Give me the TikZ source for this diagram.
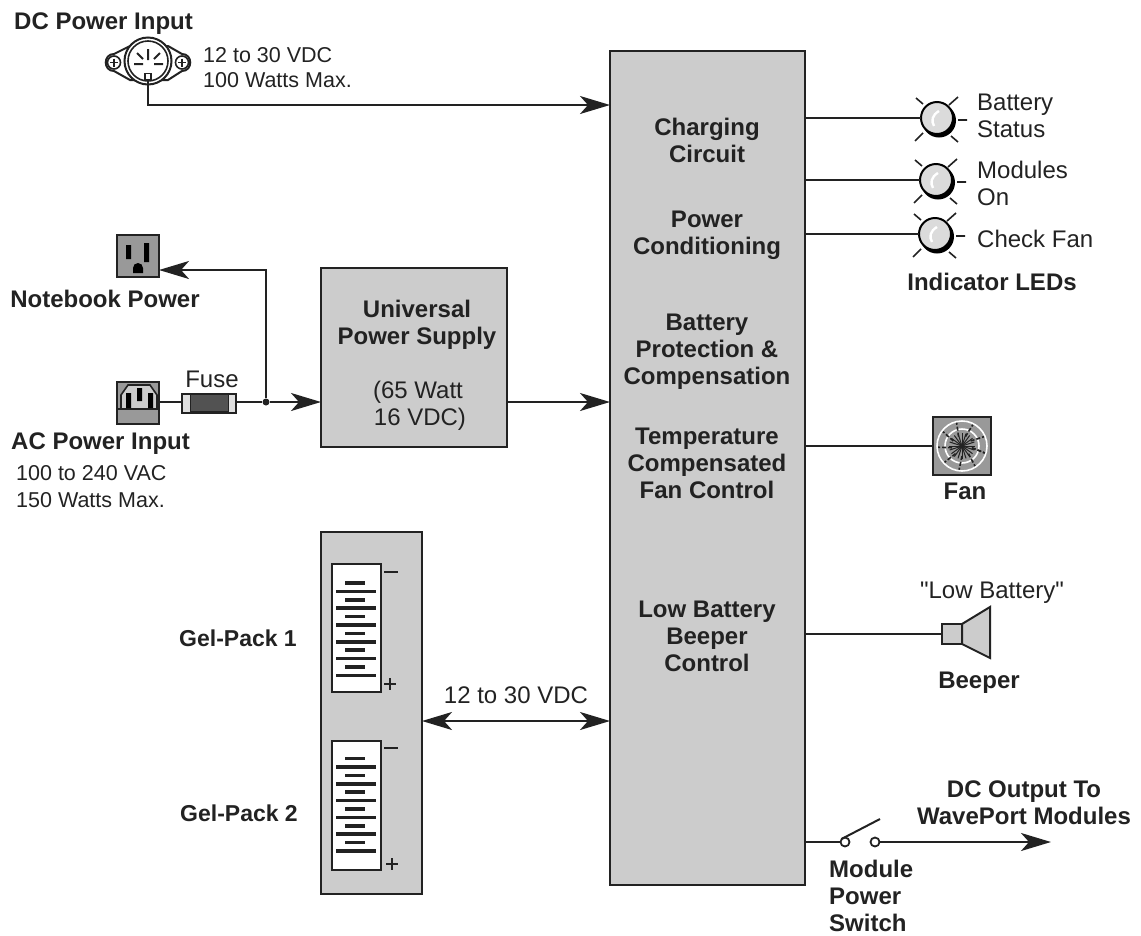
\documentclass[tikz,border=0pt]{standalone}
\usepackage{fontspec}
\setmainfont{Liberation Sans}
\newfontfamily\quotefont{Liberation Sans}
\usepackage{xcolor}
\usetikzlibrary{positioning, arrows.meta}

\definecolor{boxgray}{HTML}{CCCCCC}
\definecolor{midgray}{HTML}{999999}
\definecolor{inkdark}{HTML}{222222}

\tikzset{
    blockbox/.style={draw=inkdark,fill=boxgray,line width=2.5pt,inner sep=0pt,outer sep=0pt},
    plainlabel/.style={inner sep=0pt,text=inkdark,font=\fontsize{24}{27}\selectfont},
    boldlabel/.style={plainlabel,font=\fontsize{24}{27}\selectfont\bfseries},
    packlabel/.style={plainlabel,font=\fontsize{23}{27}\selectfont\bfseries},
    notelabel/.style={plainlabel,font=\fontsize{21.5}{27}\selectfont},
    wire/.style={draw=inkdark,line width=2.2pt},
    bigarrow/.style={wire,-{Stealth[length=30pt,width=18pt,inset=8pt]}},
    bothways/.style={wire,{Stealth[length=30pt,width=18pt,inset=8pt]}-{Stealth[length=30pt,width=18pt,inset=8pt]}},
    ledlamp/.style={circle,draw=black,fill=black!14,line width=2pt,minimum size=32pt,inner sep=0pt,outer sep=0pt},
    cellbox/.style={draw=inkdark,fill=white,line width=2pt,minimum width=49pt,inner sep=0pt,outer sep=0pt},
    socketbox/.style={draw=inkdark,fill=midgray,line width=2pt,minimum size=42pt,inner sep=0pt,outer sep=0pt},
    cellbar/.style={draw=inkdark,line width=3.6pt},
    thinink/.style={draw=inkdark,line width=1.6pt},
}

\begin{document}
\begin{tikzpicture}[x=1pt,y=-1pt]
    \useasboundingbox (0,0) rectangle (1141,935);

    % big blocks
    \node[blockbox,minimum width=195pt,minimum height=834pt] (mainbox) at (707.5,468) {};
    \node[blockbox,minimum width=186pt,minimum height=179pt] (upsbox) at (414,357.5) {};
    \node[blockbox,minimum width=101pt,minimum height=362pt] (gelbox) at (371.5,713) {};

    % text in the main block
    \node[boldlabel,align=center] (charging) at (707,140) {Charging\\Circuit};
    \node[boldlabel,align=center] (conditioning) at (707,235) {Power\\Conditioning};
    \node[boldlabel,align=center] (protection) at (707,352) {Battery\\Protection \&\\Compensation};
    \node[boldlabel,align=center] (fanctrl) at (707,463) {Temperature\\Compensated\\Fan Control};
    \node[boldlabel,align=center] (beepctrl) at (707,636) {Low Battery\\Beeper\\Control};

    % supply text
    \node[boldlabel,align=center] (upstitle) at (417,325) {Universal\\Power Supply};
    \node[plainlabel,align=center] (upswatt) at (418,406) {(65 Watt\\\,16 VDC)};

    % dc jack
    \coordinate (dcmid) at (148,61);
    \draw[thinink,fill=white,line width=2pt] (130,46) -- (114,54) .. controls (103,54) and (103,71) .. (114,71)
        -- (130,80) -- (168,80) -- (182,71) .. controls (193,71) and (193,54) .. (182,54) -- (168,46) -- cycle;
    \node[circle,draw=inkdark,fill=white,line width=2pt,minimum size=47pt,inner sep=0pt,outer sep=0pt] (dcjack) at (dcmid) {};
    \draw[thinink] (dcmid) circle (20);
    \foreach \earx in {114,182} {
        \draw[thinink] (\earx,62.5) circle (6.5);
        \draw[thinink] (\earx-4,62.5) -- (\earx+4,62.5) (\earx,58.5) -- (\earx,66.5);
    }
    \draw[draw=inkdark,line width=2pt] (148,49) -- (148,60) (137,53) -- (143,59) (160,53) -- (154,59)
        (134,64) -- (143,64) (154,64) -- (163,64);
    \node[draw=inkdark,line width=1.6pt,minimum size=6pt,inner sep=0pt,outer sep=0pt] (dcpin) at (148,76.5) {};
    \node[boldlabel,anchor=west] (dctitle) at (14,23.5) {DC Power Input};
    \node[notelabel,anchor=west,align=left] (dcnote) at (203,67.5) {12 to 30 VDC\\[-2pt]100 Watts Max.};

    % sockets
    \node[socketbox] (outlet) at (138,256) {};
    \fill[black] (126,245) rectangle (131,259) (144,243) rectangle (149,262);
    \fill[black] (133,273) -- (133,268) arc (180:360:5) -- (143,273) -- cycle;
    \node[boldlabel] (notebook) at (105,299) {Notebook Power};

    \node[socketbox] (inlet) at (138,403) {};
    \draw[thinink,fill=boxgray] (121,409) -- (121,395) -- (128,385) -- (150,385) -- (157,395) -- (157,409) -- cycle;
    \draw[thinink] (117,409) -- (159,409);
    \fill[black] (126,393) rectangle (131,408) (137,388) rectangle (142,401) (148,393) rectangle (153,408);
    \node[boldlabel,anchor=west] (actitle) at (11,443.5) {AC Power Input};
    \node[notelabel,anchor=west,align=left] (acnote) at (16,486.5) {100 to 240 VAC\\150 Watts Max.};

    % fuse
    \node[draw=inkdark,fill=black!12,line width=2pt,minimum width=54pt,minimum height=19pt,inner sep=0pt,outer sep=0pt] (fuse) at (209,403) {};
    \node[draw=inkdark,fill=black!68,line width=1pt,minimum width=38pt,minimum height=17pt,inner sep=0pt] (fusecore) at (fuse) {};
    \node[plainlabel,above=6pt of fuse,xshift=3pt] (fuselabel) {Fuse};
    \node[circle,fill=inkdark,minimum size=7pt,inner sep=0pt] (acjoin) at (266,402) {};

    % connectors on the left
    \coordinate (dcin) at (mainbox.west |- 0,105);
    \coordinate (upsin) at (upsbox.west |- acjoin);
    \coordinate (upsout) at (upsbox.east |- acjoin);
    \coordinate (mainin) at (mainbox.west |- acjoin);
    \coordinate (outletto) at (acjoin |- 0,270);
    \draw[bigarrow] (dcpin.south) |- (dcin);
    \draw[wire] (inlet.east |- acjoin) -- (fuse.west |- acjoin);
    \draw[wire] (fuse.east |- acjoin) -- (acjoin);
    \draw[bigarrow] (acjoin) -- (upsin);
    \draw[bigarrow] (acjoin) -- (outletto) -- (outlet.east |- outletto);
    \draw[bigarrow] (upsout) -- (mainin);

    % gel packs
    \foreach \cellname/\cellmid/\cellhigh/\barstart/\minusy/\plusy/\plusx/\packname/\packx/\packy in
        {cella/628/128/583/572/684/390/Gel-Pack 1/238/638, cellb/805.5/129/758.5/748/864/392/Gel-Pack 2/239/813} {
        \node[cellbox,minimum height=\cellhigh pt] (\cellname) at (356.5,\cellmid) {};
        \foreach \barno in {0,2,4,6,8,10}
            \draw[cellbar] (345,\barstart+\barno*8.4) -- (365,\barstart+\barno*8.4);
        \foreach \barno in {1,3,5,7,9,11}
            \draw[cellbar] (336,\barstart+\barno*8.4) -- (376,\barstart+\barno*8.4);
        \draw[draw=inkdark,line width=2.4pt] (384,\minusy) -- (398,\minusy);
        \draw[draw=inkdark,line width=2.8pt] (\plusx-6,\plusy) -- (\plusx+6,\plusy) (\plusx,\plusy-6) -- (\plusx,\plusy+6);
        \node[packlabel] at (\packx,\packy) {\packname};
    }
    \coordinate (gelout) at (gelbox.east |- 0,721);
    \coordinate (gelin) at (mainbox.west |- 0,721);
    \draw[bothways] (gelout) -- node[plainlabel,above=16pt] (gelvolt) {12 to 30 VDC} (gelin);

    % indicator leds
    \foreach \ledname/\ledx/\ledy in {ledb/937/118, ledm/936/180, ledc/935/234} {
        \fill[black] (\ledx+2,\ledy+2.5) circle (17);
        \node[ledlamp] (\ledname) at (\ledx,\ledy) {};
        \draw[draw=white,line width=2.4pt] (\ledx+2,\ledy-7) .. controls (\ledx-5,\ledy-3) and (\ledx-6,\ledy+3) .. (\ledx-3,\ledy+8);
        \draw[thinink] (\ledx+12,\ledy-13) -- (\ledx+21,\ledy-21)
            (\ledx-14,\ledy-14) -- (\ledx-21,\ledy-20) (\ledx-14,\ledy+15) -- (\ledx-22,\ledy+23)
            (\ledx+14,\ledy+18) -- (\ledx+21,\ledy+24) (\ledx+21,\ledy+2) -- (\ledx+30,\ledy+2);
        \draw[wire] (mainbox.east |- \ledname) -- (\ledname.west);
    }
    \node[plainlabel,anchor=west,align=left] (ledbtext) at (977,115.5) {Battery\\Status};
    \node[plainlabel,anchor=west,align=left] (ledmtext) at (977,183.5) {Modules\\On};
    \node[plainlabel,anchor=west] (ledctext) at (977,239) {Check Fan};
    \node[boldlabel] (ledtitle) at (992,282) {Indicator LEDs};

    % fan
    \node[socketbox,minimum size=58pt] (fanbox) at (962,446) {};
    \draw[draw=white,line width=1.6pt] (fanbox) circle (25) (fanbox) circle (17);
    \foreach \fanang in {0,18,...,342}
        \draw[draw=inkdark,line width=1pt] (fanbox.center) -- ++(\fanang:13);
    \foreach \fanang in {10,50,...,370}
        \draw[draw=inkdark,line width=1.6pt,dash pattern=on 4pt off 2pt] (fanbox.center) ++(\fanang:10) -- ++(\fanang+12:14);
    \node[boldlabel] (fanlabel) at (965,491) {Fan};
    \draw[wire] (mainbox.east |- fanbox) -- (fanbox.west);

    % beeper
    \node[blockbox,line width=2pt,minimum width=20pt,minimum height=20pt] (beepneck) at (952,634) {};
    \draw[draw=inkdark,fill=boxgray,line width=2pt] (beepneck.north east) -- (990,607) -- (990,658) -- (beepneck.south east) -- cycle;
    \node[plainlabel] (beeptext) at (992,593) {{\quotefont"}Low Battery{\quotefont"}};
    \node[boldlabel] (beeplabel) at (979,683) {Beeper};
    \draw[wire] (mainbox.east |- beepneck) -- (beepneck.west);

    % module switch
    \node[circle,draw=inkdark,line width=1.8pt,minimum size=9pt,inner sep=0pt,outer sep=0pt] (swleft) at (845,842) {};
    \node[circle,draw=inkdark,line width=1.8pt,minimum size=9pt,inner sep=0pt,outer sep=0pt] (swright) at (875,842) {};
    \coordinate (swlever) at (880,819);
    \coordinate (dcout) at (1051,842);
    \draw[wire] (mainbox.east |- swleft) -- (swleft.west);
    \draw[wire,line width=2pt] (swleft.north west) -- (swlever);
    \draw[bigarrow] (swright.east) -- (dcout);
    \node[boldlabel,align=center] (dctext) at (1024,802.5) {DC Output To\\WavePort Modules};
    \node[boldlabel,align=left,anchor=west] (swtext) at (829,896) {Module\\Power\\Switch};
\end{tikzpicture}
\end{document}
